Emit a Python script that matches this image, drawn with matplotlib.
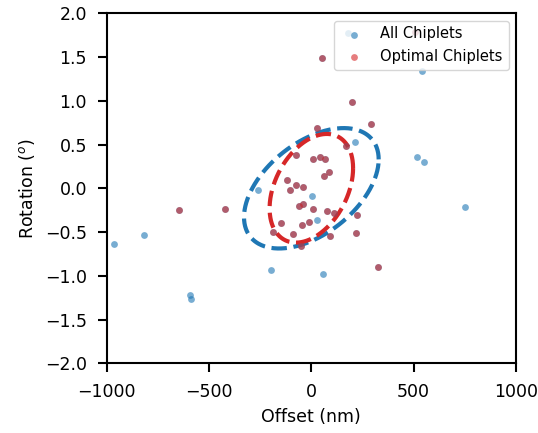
import numpy as np
import matplotlib
matplotlib.use("Agg")
import matplotlib.pyplot as plt

# All chiplets (offset in nm, rotation in degrees)
other_offset = [-964, -817, -593, -588, -259, -198, 2, 29, 59, 518, 551, 749, 541, 215, 179]
other_rotation = [-0.64, -0.53, -1.22, -1.27, -0.015, -0.93, -0.085, -0.36, -0.985,
                  0.355, 0.295, -0.215, 1.335, 0.525, 1.78]

# Optimal chiplets (also part of "All Chiplets")
optimal_offset = [54, 197, 292, 28, 170, 10, 41, 68, 88, 64, -75, -119, -104, -75, -42,
                  -648, -420, -186, -148, -91, -49, -44, -10, 10, -60, -41, 78, 112,
                  225, 91, 220, 324, 506]
optimal_rotation = [1.49, 0.985, 0.73, 0.685, 0.485, 0.34, 0.36, 0.335, 0.19, 0.145,
                    0.385, 0.10, -0.015, 0.042, 0.017, -0.245, -0.24, -0.50, -0.395,
                    -0.52, -0.655, -0.415, -0.39, -0.235, -0.205, -0.185, -0.263,
                    -0.285, -0.305, -0.54, -0.515, -0.905, 1.79]

all_offset = other_offset + optimal_offset
all_rotation = other_rotation + optimal_rotation

# Ellipse parameters: center (x, y), std x, std y, correlation
all_ellipse = [0.0, 0.0, 329.0, 0.688, 0.48]
optimal_ellipse = [0.0, 0.0, 204.0, 0.621, 0.37]

xticks = [-1000, -500, 0, 500, 1000]
yticks = [-2.0, -1.5, -1.0, -0.5, 0.0, 0.5, 1.0, 1.5, 2.0]

plt.rcParams['font.family'] = ['DejaVu Sans']

fig = plt.figure(figsize=(5.38, 4.33), dpi=100)
ax = fig.add_axes([0.1983, 0.161, 0.7608, 0.8083])

blue = '#1f77b4'
red = '#d62728'


def ellipse_xy(p):
    cx, cy, sx, sy, rho = p
    t = np.linspace(0, 2 * np.pi, 400)
    x = cx + sx * np.cos(t)
    y = cy + sy * (rho * np.cos(t) + np.sqrt(1 - rho ** 2) * np.sin(t))
    return x, y


ex, ey = ellipse_xy(all_ellipse)
ax.plot(ex, ey, color=blue, lw=3, ls='--', zorder=1)
ex, ey = ellipse_xy(optimal_ellipse)
ax.plot(ex, ey, color=red, lw=3, ls='--', zorder=1)

ax.scatter(all_offset, all_rotation, s=24, color=blue, alpha=0.6, linewidths=0,
           label='All Chiplets', zorder=2)
ax.scatter(optimal_offset, optimal_rotation, s=24, color=red, alpha=0.6, linewidths=0,
           label='Optimal Chiplets', zorder=3)

ax.set_xlim(-1000, 1000)
ax.set_ylim(-2, 2)
ax.set_xticks(xticks)
ax.set_yticks(yticks)
ax.tick_params(labelsize=12.5, length=6.7, width=1.5, pad=7.5)
for sp in ax.spines.values():
    sp.set_linewidth(1.5)
ax.set_xlabel('Offset (nm)', fontsize=12.5, labelpad=5)
ax.set_ylabel(r'Rotation ($^o$)', fontsize=12.5, labelpad=6)
ax.legend(loc='upper right', fontsize=10.5)

fig.savefig('out.png', dpi=100)
